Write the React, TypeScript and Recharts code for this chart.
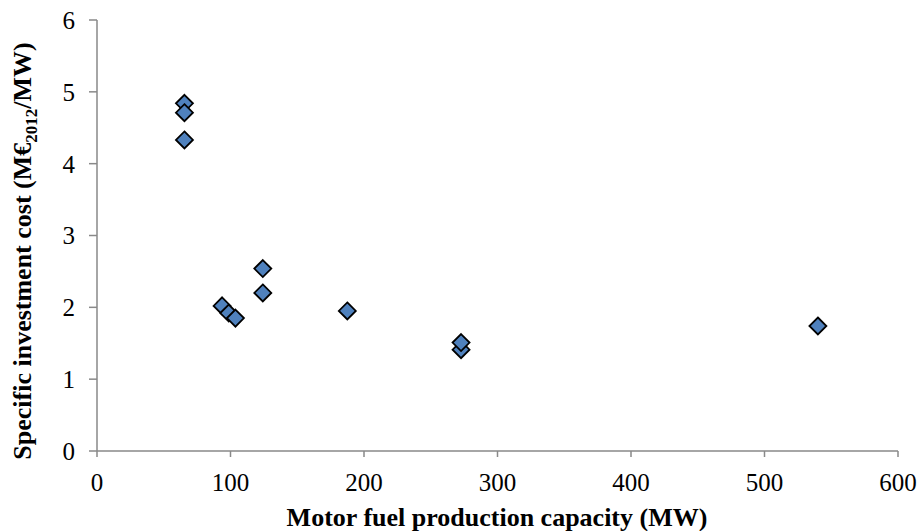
import { ScatterChart, Scatter, XAxis, YAxis, Label } from "recharts";

// capacity (MW) and specific investment cost (M€2012/MW)
const capacity = [65.5, 65.5, 65.5, 93.7, 98.7, 103.7, 124.2, 124.2, 187.5, 272.7, 272.7, 540];
const cost = [4.84, 4.71, 4.33, 2.02, 1.92, 1.85, 2.54, 2.2, 1.95, 1.41, 1.51, 1.74];
const xTicks = [0, 100, 200, 300, 400, 500, 600];
const yTicks = [0, 1, 2, 3, 4, 5, 6];

const data = capacity.map((x, i) => ({ x, y: cost[i] }));

const FONT = "'Liberation Serif', 'Times New Roman', serif";
const AXIS = "#898989";

const Diamond = (props: any) => {
    const { cx, cy } = props;
    const r = 8.5;
    return (
        <polygon
            points={`${cx},${cy - r} ${cx + r},${cy} ${cx},${cy + r} ${cx - r},${cy}`}
            fill="#4F81BD"
            stroke="#000"
            strokeWidth={1.8}
        />
    );
};

const YTitle = () => (
    <text
        transform="translate(31,251) rotate(-90)"
        textAnchor="middle"
        fontFamily={FONT}
        fontWeight="bold"
        fontSize={26}
        fill="#000"
    >
        Specific investment cost (M€
        <tspan fontSize={17} dy={6}>2012</tspan>
        <tspan dy={-6}>/MW)</tspan>
    </text>
);

const XTitle = () => (
    <text
        x={497}
        y={526}
        textAnchor="middle"
        fontFamily={FONT}
        fontWeight="bold"
        fontSize={26}
        fill="#000"
    >
        Motor fuel production capacity (MW)
    </text>
);

export default function App() {
    return (
        <div style={{ position: "absolute", left: 0, top: 0, background: "#fff" }}>
            <ScatterChart width={922} height={531} margin={{ top: 20, right: 24, left: 0, bottom: 0 }}>
                <XAxis
                    type="number"
                    dataKey="x"
                    domain={[0, 600]}
                    ticks={xTicks}
                    height={80}
                    stroke={AXIS}
                    strokeWidth={1.5}
                    tickSize={6}
                    tickMargin={16}
                    tick={{ fill: "#000", fontFamily: FONT, fontSize: 25 }}
                >
                    <Label content={<XTitle />} />
                </XAxis>
                <YAxis
                    type="number"
                    dataKey="y"
                    domain={[0, 6]}
                    ticks={yTicks}
                    width={97}
                    stroke={AXIS}
                    strokeWidth={1.5}
                    tickSize={8}
                    tickMargin={14}
                    tick={{ fill: "#000", fontFamily: FONT, fontSize: 25 }}
                >
                    <Label content={<YTitle />} />
                </YAxis>
                <Scatter data={data} shape={<Diamond />} isAnimationActive={false} />
            </ScatterChart>
        </div>
    );
}
